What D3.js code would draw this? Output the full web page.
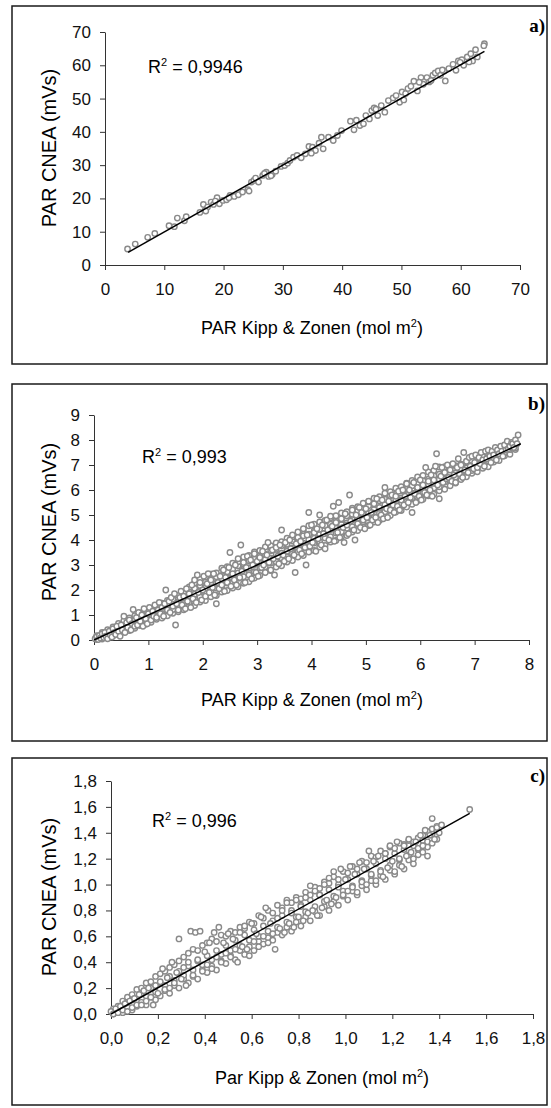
<!DOCTYPE html>
<html>
<head>
<meta charset="utf-8">
<script src="https://cdn.jsdelivr.net/npm/d3@7"></script>
<style>
  body { margin: 0; background: #fff; }
  svg { display: block; font-family: "Liberation Sans", Arial, sans-serif; }
  .axis path, .axis line { stroke: #333; }
  .axis text { font-size: 17px; fill: #111; font-family: "Liberation Sans", Arial, sans-serif; }
</style>
</head>
<body>
<div id="chart-area"></div>
<script>
// ---- data ----
const panelLetters = ["a)", "b)", "c)"]
const r2Labels = ["0,9946", "0,993", "0,996"]
const xTitles = ["PAR Kipp & Zonen (mol m", "PAR Kipp & Zonen (mol m", "Par Kipp & Zonen (mol m"]
const yTitle = "PAR CNEA (mVs)"

const aTicks = [0, 10, 20, 30, 40, 50, 60, 70]
const bTicks = [0, 1, 2, 3, 4, 5, 6, 7, 8]
const bYTicks = [0, 1, 2, 3, 4, 5, 6, 7, 8, 9]
const cTicks = [0, 0.2, 0.4, 0.6, 0.8, 1.0, 1.2, 1.4, 1.6, 1.8]

const aTrend = [[3.9, 3.8], [64, 64.2]]
const bTrend = [[0, 0], [7.85, 7.85]]
const cTrend = [[0, 0], [1.53, 1.55]]

const aPoints = [
  [3.8,4.8],[5.1,6.3],[7.2,8.3],[8.4,9.5],[10.8,11.8],[11.7,11.5],[12.2,14.1],[13.4,13.3],[13.7,14.5],
  [16.0,15.8],[16.6,18.2],[16.9,16.5],[17.3,17.4],[17.9,18.9],[18.3,18.2],[18.9,20.2],[19.3,18.4],
  [19.9,19.4],[20.5,19.6],[21.1,20.9],[21.8,20.6],[22.5,21.1],[23.2,21.9],[24.1,22.6],[24.3,22.2],
  [24.7,24.9],[25.1,25.4],[25.4,26.1],[25.9,24.9],[26.6,26.9],[27.2,27.9],[27.6,26.6],[28.2,27.2],
  [28.8,28.2],[29.7,29.6],[30.3,29.9],[30.8,30.6],[31.2,31.4],[31.8,32.4],[32.4,32.9],[33.1,32.2],
  [33.8,33.4],[34.4,35.6],[35.0,35.4],[35.5,34.4],[36.1,36.6],[36.5,38.4],[36.8,34.9],[37.7,38.4],
  [38.5,37.4],[39.2,38.9],[39.9,40.4],[41.4,43.2],[42.0,40.6],[42.4,43.5],[43.0,41.9],[43.6,42.4],
  [44.0,44.9],[44.6,43.9],[45.0,46.4],[45.4,47.2],[46.0,44.9],[46.6,47.9],[47.2,45.9],[47.8,49.4],
  [48.6,50.2],[49.1,50.9],[49.7,48.9],[50.1,52.0],[50.7,51.5],[51.1,53.0],[51.6,53.7],[52.1,55.2],
  [52.7,52.3],[53.3,56.3],[53.7,54.3],[54.3,56.3],[54.7,55.0],[55.3,57.0],[55.7,57.7],[56.2,58.3],
  [56.6,57.0],[57.2,58.3],[57.4,55.3],[58.0,59.0],[58.7,60.3],[59.2,58.5],[59.6,61.3],[60.2,61.7],
  [60.5,60.0],[61.1,62.5],[61.7,63.5],[62.0,61.3],[62.5,64.7],[62.8,62.5],[64.0,66.5],
  [17.0,16.2],[18.6,19.2],[20.9,20.2],[26.9,27.5],[28.0,26.8],[34.8,33.6],[45.7,46.8],[50.4,49.6],
  [53.0,54.9],[55.0,55.4],[56.9,58.6],[59.9,60.9],[61.4,61.0],[63.9,65.9]
]

const bPoints = [
  [0.02,0.05],[0.05,0.12],[0.08,0.02],[0.1,0.18],[0.12,0.08],[0.15,0.25],[0.18,0.1],[0.2,0.3],[0.22,0.15],
  [0.25,0.05],[0.28,0.35],[0.3,0.2],[0.33,0.12],[0.35,0.45],[0.38,0.3],[0.4,0.22],[0.42,0.55],[0.45,0.35],
  [0.48,0.15],[0.5,0.6],[0.52,0.4],[0.55,0.95],[0.57,0.3],[0.6,0.7],[0.62,0.5],[0.65,0.8],[0.68,0.4],
  [0.7,0.65],[0.72,1.22],[0.75,0.55],[0.78,0.9],[0.8,0.6],[0.82,1.1],[0.85,0.75],[0.88,1.0],[0.9,0.55],
  [0.92,1.25],[0.95,0.85],[0.98,0.65],[1.0,1.05],[1.02,1.3],[1.05,0.8],[1.08,1.15],[1.1,0.95],[1.12,1.4],
  [1.15,0.9],[1.18,1.2],[1.2,1.5],[1.22,1.05],[1.25,1.3],[1.28,0.95],[1.3,1.45],[1.32,2.0],[1.35,1.2],
  [1.38,1.55],[1.4,1.1],[1.42,1.7],[1.45,1.35],[1.48,1.85],[1.5,0.6],[1.52,1.45],[1.55,1.2],[1.58,1.7],
  [1.6,1.95],[1.62,1.4],[1.65,1.75],[1.68,1.25],[1.7,2.05],[1.72,1.55],[1.75,1.85],[1.78,1.3],[1.8,2.2],
  [1.82,1.65],[1.85,2.4],[1.88,1.5],[1.9,2.6],[1.92,1.9],[1.95,2.3],[1.98,1.6],[2.0,2.0],[2.02,2.55],
  [2.05,1.75],[2.08,2.25],[2.1,2.65],[2.12,1.9],[2.15,2.4],[2.18,2.1],[2.2,2.65],[2.22,1.8],[2.25,1.45],
  [2.28,2.3],[2.3,2.05],[2.32,2.55],[2.35,2.2],[2.38,2.8],[2.4,1.95],[2.42,2.5],[2.45,2.3],[2.48,2.9],
  [2.5,3.5],[2.52,2.15],[2.55,2.65],[2.58,2.4],[2.6,3.0],[2.62,2.2],[2.65,3.25],[2.68,2.5],[2.7,3.8],
  [2.72,2.75],[2.75,3.1],[2.78,2.3],[2.8,2.9],[2.82,3.35],[2.85,2.6],[2.88,3.2],[2.9,2.45],[2.92,3.0],
  [2.95,3.45],[2.98,2.7],[3.0,3.15],[3.02,2.55],[3.05,3.3],[3.08,2.9],[3.1,3.55],[3.12,3.0],[3.15,2.7],
  [3.18,3.4],[3.2,3.9],[3.22,3.1],[3.25,2.8],[3.28,3.6],[3.3,3.25],[3.32,2.6],[3.35,3.7],[3.38,3.35],
  [3.4,3.05],[3.42,3.8],[3.45,4.4],[3.48,3.4],[3.5,3.15],[3.52,3.9],[3.55,3.55],[3.58,3.25],[3.6,4.0],
  [3.62,3.65],[3.65,4.2],[3.68,3.4],[3.7,2.7],[3.72,3.85],[3.75,4.1],[3.78,3.6],[3.8,3.95],[3.82,3.45],
  [3.85,4.45],[3.88,3.7],[3.9,3.0],[3.92,4.2],[3.95,5.1],[3.97,3.75],[4.0,4.6],[4.02,3.9],[4.05,4.3],
  [4.08,3.55],[4.1,4.45],[4.12,4.05],[4.15,5.0],[4.18,3.8],[4.2,4.6],[4.22,4.25],[4.25,3.65],[4.28,4.8],
  [4.3,4.4],[4.32,4.0],[4.35,4.95],[4.38,4.55],[4.4,5.35],[4.42,3.95],[4.45,4.7],[4.48,4.3],[4.5,5.5],
  [4.52,4.1],[4.55,4.85],[4.58,4.5],[4.6,3.9],[4.62,5.05],[4.65,4.6],[4.68,4.25],[4.7,5.8],[4.72,4.75],
  [4.75,5.2],[4.78,4.4],[4.8,4.0],[4.82,5.0],[4.85,4.65],[4.88,5.3],[4.9,4.5],[4.92,5.1],[4.95,4.8],
  [4.98,4.45],[5.0,5.25],[5.02,4.9],[5.05,5.55],[5.08,4.6],[5.1,5.1],[5.12,4.8],[5.15,5.45],[5.18,4.9],
  [5.2,5.65],[5.22,4.7],[5.25,5.3],[5.28,5.0],[5.3,5.6],[5.32,4.85],[5.35,6.1],[5.38,5.25],[5.4,4.9],
  [5.42,5.55],[5.45,5.2],[5.48,5.8],[5.5,5.4],[5.52,5.1],[5.55,5.75],[5.58,5.35],[5.6,5.95],[5.62,5.2],
  [5.65,5.6],[5.68,6.0],[5.7,5.4],[5.72,5.75],[5.75,6.25],[5.78,5.5],[5.8,6.0],[5.82,5.7],[5.85,5.1],
  [5.88,6.3],[5.9,5.85],[5.92,5.5],[5.95,6.1],[5.98,5.75],[6.0,6.4],[6.02,5.6],[6.05,6.2],[6.08,5.9],
  [6.1,6.9],[6.12,5.8],[6.15,6.35],[6.18,6.0],[6.2,6.6],[6.22,5.75],[6.25,6.4],[6.28,6.95],[6.3,7.45],
  [6.32,6.2],[6.35,5.65],[6.38,6.55],[6.4,6.9],[6.42,6.3],[6.45,6.7],[6.48,6.45],[6.5,7.0],[6.52,6.5],
  [6.55,6.8],[6.58,6.35],[6.6,7.05],[6.62,6.6],[6.65,6.3],[6.68,6.9],[6.7,7.25],[6.72,6.65],[6.75,7.0],
  [6.78,6.5],[6.8,7.5],[6.82,6.8],[6.85,7.15],[6.88,6.7],[6.9,7.3],[6.92,6.95],[6.95,7.35],[6.98,6.85],
  [7.0,7.1],[7.02,7.4],[7.05,6.9],[7.08,7.3],[7.1,7.05],[7.12,7.5],[7.15,7.2],[7.18,6.95],[7.2,7.55],
  [7.22,7.25],[7.25,7.6],[7.28,7.35],[7.3,7.1],[7.32,7.55],[7.35,7.4],[7.38,7.7],[7.4,7.2],[7.42,7.6],
  [7.45,7.45],[7.48,7.75],[7.5,7.55],[7.52,7.35],[7.55,7.8],[7.58,7.6],[7.6,7.95],[7.62,7.65],[7.65,7.75],
  [7.68,7.9],[7.7,7.85],[7.72,7.7],[7.75,8.0],[7.78,7.85],[7.8,8.2]
]

// more of the dense band in b, read column by column (x, list of y)
const bColumns = [
  [0.05,[0.02,0.09,0.17]],[0.15,[0.04,0.14,0.22,0.3]],[0.25,[0.12,0.19,0.33,0.41]],
  [0.35,[0.16,0.28,0.37,0.52]],[0.45,[0.22,0.41,0.48,0.66]],[0.55,[0.33,0.44,0.63,0.78]],
  [0.65,[0.38,0.57,0.69,0.88]],[0.75,[0.47,0.68,0.83,0.97]],[0.85,[0.58,0.66,0.93,1.08]],
  [0.95,[0.63,0.82,0.97,1.18]],[1.05,[0.71,0.93,1.09,1.24]],[1.15,[0.83,1.02,1.17,1.38]],
  [1.25,[0.88,1.13,1.22,1.47]],[1.35,[0.97,1.18,1.39,1.58]],[1.45,[1.07,1.22,1.48,1.63]],
  [1.55,[1.13,1.38,1.52,1.78]],[1.65,[1.21,1.47,1.68,1.88]],[1.75,[1.33,1.52,1.77,1.93,2.12]],
  [1.85,[1.38,1.63,1.83,2.07,2.28]],[1.95,[1.52,1.72,1.97,2.18,2.43]],[2.05,[1.58,1.88,2.08,2.32,2.52]],
  [2.15,[1.73,1.93,2.22,2.43,2.63]],[2.25,[1.78,2.08,2.27,2.53,2.68]],[2.35,[1.92,2.13,2.42,2.58,2.87]],
  [2.45,[1.98,2.28,2.48,2.73,2.93]],[2.55,[2.08,2.32,2.62,2.83,3.07]],[2.65,[2.13,2.47,2.68,2.97,3.13]],
  [2.75,[2.27,2.53,2.83,3.03,3.32]],[2.85,[2.33,2.68,2.88,3.17,3.38]],[2.95,[2.48,2.73,3.02,3.23,3.52]],
  [3.05,[2.58,2.88,3.07,3.37,3.58]],[3.15,[2.72,2.93,3.22,3.43,3.72]],[3.25,[2.78,3.08,3.27,3.57,3.77]],
  [3.35,[2.92,3.13,3.42,3.63,3.88]],[3.45,[2.97,3.28,3.47,3.77,3.93]],[3.55,[3.12,3.33,3.62,3.83,4.07]],
  [3.65,[3.18,3.47,3.68,3.97,4.13]],[3.75,[3.32,3.53,3.82,4.03,4.32]],[3.85,[3.38,3.68,3.87,4.17,4.38]],
  [3.95,[3.52,3.73,4.02,4.23,4.57]],[4.05,[3.58,3.88,4.07,4.37,4.63]],[4.15,[3.72,3.93,4.22,4.43,4.72]],
  [4.25,[3.78,4.08,4.27,4.57,4.78]],[4.35,[3.92,4.13,4.42,4.63,4.88]],[4.45,[3.98,4.28,4.47,4.77,4.97]],
  [4.55,[4.12,4.33,4.62,4.83,5.08]],[4.65,[4.18,4.47,4.68,4.97,5.13]],[4.75,[4.32,4.53,4.82,5.03,5.27]],
  [4.85,[4.38,4.68,4.87,5.17,5.33]],[4.95,[4.52,4.73,5.02,5.23,5.47]],[5.05,[4.58,4.88,5.07,5.37,5.53]],
  [5.15,[4.72,4.93,5.22,5.43,5.67]],[5.25,[4.78,5.08,5.27,5.57,5.73]],[5.35,[4.92,5.13,5.42,5.63,5.87]],
  [5.45,[4.98,5.28,5.47,5.77,5.93]],[5.55,[5.12,5.33,5.62,5.83,6.07]],[5.65,[5.18,5.47,5.68,5.97,6.13]],
  [5.75,[5.32,5.53,5.82,6.03,6.27]],[5.85,[5.43,5.68,5.87,6.17,6.38]],[5.95,[5.57,5.73,6.02,6.23,6.52]],
  [6.05,[5.63,5.88,6.07,6.37,6.58]],[6.15,[5.77,5.93,6.22,6.43,6.72]],[6.25,[5.83,6.08,6.27,6.57,6.78]],
  [6.35,[5.97,6.13,6.42,6.63,6.92]],[6.45,[6.03,6.32,6.48,6.77,6.93]],[6.55,[6.17,6.38,6.62,6.87]],
  [6.65,[6.28,6.52,6.68,6.97]],[6.75,[6.42,6.58,6.82,7.03]],[6.85,[6.53,6.72,6.88,7.12]],
  [6.95,[6.67,6.78,7.02,7.18]],[7.05,[6.73,6.97,7.08,7.32]],[7.15,[6.87,7.03,7.22,7.33]],
  [7.25,[6.93,7.17,7.28,7.47]],[7.35,[7.12,7.23,7.42,7.53]],[7.45,[7.18,7.37,7.48,7.67]],
  [7.55,[7.37,7.48,7.62,7.73]],[7.65,[7.43,7.62,7.68,7.87]],[7.75,[7.62,7.68,7.82,7.88]]
]

const cPoints = [
  [0.0,0.02],[0.01,0.0],[0.02,0.04],[0.03,0.01],[0.04,0.06],[0.05,0.03],[0.06,0.08],[0.07,0.02],[0.08,0.1],
  [0.09,0.05],[0.1,0.12],[0.11,0.07],[0.12,0.15],[0.13,0.07],[0.14,0.18],[0.15,0.1],[0.16,0.2],[0.17,0.13],
  [0.18,0.07],[0.19,0.22],[0.2,0.16],[0.21,0.25],[0.22,0.35],[0.23,0.19],[0.24,0.28],[0.25,0.2],[0.26,0.4],
  [0.27,0.24],[0.28,0.32],[0.29,0.58],[0.3,0.27],[0.31,0.36],[0.32,0.22],[0.33,0.4],[0.34,0.64],[0.35,0.3],
  [0.36,0.63],[0.37,0.42],[0.38,0.64],[0.39,0.33],[0.4,0.48],[0.41,0.38],[0.42,0.55],[0.43,0.35],[0.44,0.63],
  [0.45,0.44],[0.46,0.67],[0.47,0.4],[0.48,0.55],[0.49,0.47],[0.5,0.62],[0.51,0.44],[0.52,0.58],[0.53,0.5],
  [0.54,0.4],[0.55,0.63],[0.56,0.52],[0.57,0.68],[0.58,0.5],[0.59,0.45],[0.6,0.7],[0.61,0.56],[0.62,0.62],
  [0.63,0.52],[0.64,0.75],[0.65,0.6],[0.66,0.82],[0.67,0.55],[0.68,0.7],[0.69,0.62],[0.7,0.5],[0.71,0.74],
  [0.72,0.66],[0.73,0.8],[0.74,0.63],[0.75,0.86],[0.76,0.7],[0.77,0.78],[0.78,0.67],[0.79,0.88],[0.8,0.75],
  [0.81,0.83],[0.82,0.72],[0.83,0.9],[0.84,0.78],[0.85,0.99],[0.86,0.8],[0.87,0.95],[0.88,0.76],[0.89,0.92],
  [0.9,0.82],[0.91,1.0],[0.92,0.88],[0.93,1.05],[0.94,0.85],[0.95,1.1],[0.96,0.9],[0.97,0.98],[0.98,1.12],
  [0.99,0.92],[1.0,1.04],[1.01,0.95],[1.02,1.14],[1.03,0.98],[1.04,1.08],[1.05,0.94],[1.06,1.17],[1.07,1.02],
  [1.08,1.12],[1.09,1.0],[1.1,1.26],[1.11,1.08],[1.12,1.18],[1.13,1.03],[1.14,1.22],[1.15,1.1],[1.16,1.06],
  [1.17,1.24],[1.18,1.13],[1.19,1.3],[1.2,1.18],[1.21,1.1],[1.22,1.33],[1.23,1.2],[1.24,1.14],[1.25,1.3],
  [1.26,1.22],[1.27,1.35],[1.28,1.25],[1.29,1.2],[1.3,1.33],[1.31,1.28],[1.32,1.38],[1.33,1.3],[1.34,1.42],
  [1.35,1.22],[1.36,1.38],[1.37,1.51],[1.38,1.35],[1.39,1.44],[1.4,1.4],[1.41,1.46],[1.53,1.58]
]

// more of the dense band in c, read column by column (x, list of y)
const cColumns = [
  [0.01,[0.0,0.04]],[0.03,[0.02,0.06]],[0.05,[0.01,0.07,0.1]],[0.07,[0.05,0.09,0.13]],
  [0.09,[0.03,0.11,0.15]],[0.11,[0.06,0.1,0.19]],[0.13,[0.09,0.16,0.2]],[0.15,[0.07,0.14,0.24]],
  [0.17,[0.13,0.2,0.25]],[0.19,[0.11,0.17,0.29]],[0.21,[0.14,0.24,0.31]],[0.23,[0.18,0.22,0.33]],
  [0.25,[0.16,0.29,0.36]],[0.27,[0.22,0.26,0.38]],[0.29,[0.2,0.33,0.41]],[0.31,[0.27,0.3,0.44]],
  [0.33,[0.24,0.37,0.47]],[0.35,[0.29,0.34,0.5]],[0.37,[0.27,0.41,0.49]],[0.39,[0.34,0.38,0.53]],
  [0.41,[0.32,0.45,0.55]],[0.43,[0.37,0.42,0.58]],[0.45,[0.34,0.49,0.56]],[0.47,[0.41,0.46,0.61]],
  [0.49,[0.39,0.53,0.6]],[0.51,[0.45,0.49,0.64]],[0.53,[0.42,0.57,0.63]],[0.55,[0.49,0.53,0.67]],
  [0.57,[0.46,0.61,0.66]],[0.59,[0.52,0.57,0.71]],[0.61,[0.49,0.65,0.7]],[0.63,[0.56,0.6,0.76]],
  [0.65,[0.54,0.68,0.74]],[0.67,[0.59,0.64,0.8]],[0.69,[0.57,0.72,0.78]],[0.71,[0.63,0.67,0.84]],
  [0.73,[0.61,0.76,0.82]],[0.75,[0.67,0.71,0.88]],[0.77,[0.64,0.8,0.86]],[0.79,[0.71,0.75,0.9]],
  [0.81,[0.68,0.84,0.89]],[0.83,[0.75,0.79,0.94]],[0.85,[0.72,0.88,0.92]],[0.87,[0.79,0.83,0.98]],
  [0.89,[0.76,0.92,0.97]],[0.91,[0.83,0.87,1.02]],[0.93,[0.8,0.96,1.01]],[0.95,[0.87,0.91,1.06]],
  [0.97,[0.84,1.0,1.04]],[0.99,[0.91,0.95,1.1]],[1.01,[0.88,1.04,1.09]],[1.03,[0.95,0.99,1.14]],
  [1.05,[0.92,1.08,1.12]],[1.07,[0.99,1.03,1.18]],[1.09,[0.96,1.12,1.17]],[1.11,[1.03,1.07,1.22]],
  [1.13,[1.0,1.16,1.21]],[1.15,[1.07,1.11,1.26]],[1.17,[1.04,1.2,1.24]],[1.19,[1.11,1.15,1.29]],
  [1.21,[1.08,1.24,1.28]],[1.23,[1.15,1.19,1.32]],[1.25,[1.12,1.27,1.31]],[1.27,[1.19,1.23,1.34]],
  [1.29,[1.16,1.3,1.33]],[1.31,[1.23,1.27,1.36]],[1.33,[1.25,1.34,1.38]],[1.35,[1.29,1.33,1.41]],
  [1.37,[1.32,1.39,1.43]],[1.39,[1.35,1.42,1.45]]
]

const fromColumns = cols => cols.flatMap(([x, ys]) => ys.map(y => [x, y]))

// ---- layout ----
const svg = d3.select("#chart-area").append("svg")
  .attr("width", 551)
  .attr("height", 1108)

const panels = [
  { letter: panelLetters[0], r2: r2Labels[0], xTitle: xTitles[0], points: aPoints, trend: aTrend,
    xTicks: aTicks, yTicks: aTicks, xDom: [0, 70], yDom: [0, 70], fmt: d => d,
    frame: [12, 6, 547, 364], xr: [105, 520], yr: [265, 32],
    r2Pos: [148, 67], yTitlePos: [49, 148], xTitlePos: [312, 328], letterPos: [545, 25] },
  { letter: panelLetters[1], r2: r2Labels[1], xTitle: xTitles[1], points: fromColumns(bColumns).concat(bPoints), trend: bTrend,
    xTicks: bTicks, yTicks: bYTicks, xDom: [0, 8], yDom: [0, 9], fmt: d => d,
    frame: [12, 384, 547, 741], xr: [94, 529], yr: [640, 415],
    r2Pos: [142, 457], yTitlePos: [49, 522], xTitlePos: [312, 700], letterPos: [545, 403] },
  { letter: panelLetters[2], r2: r2Labels[2], xTitle: xTitles[2], points: fromColumns(cColumns).concat(cPoints), trend: cTrend,
    xTicks: cTicks, yTicks: cTicks, xDom: [0, 1.8], yDom: [0, 1.8], fmt: d => d.toFixed(1).replace(".", ","),
    frame: [12, 758, 547, 1105], xr: [111, 533], yr: [1014, 781],
    r2Pos: [152, 821], yTitlePos: [49, 897], xTitlePos: [322, 1078], letterPos: [545, 775] }
]

panels.forEach(p => drawPanel(p))

function drawPanel(p) {
  const g = svg.append("g")

  // outer frame
  g.append("rect")
    .attr("x", p.frame[0])
    .attr("y", p.frame[1])
    .attr("width", p.frame[2] - p.frame[0])
    .attr("height", p.frame[3] - p.frame[1])
    .attr("fill", "none")
    .attr("stroke", "#1a1a1a")
    .attr("stroke-width", 1.5)

  const x = d3.scaleLinear().domain(p.xDom).range(p.xr)
  const y = d3.scaleLinear().domain(p.yDom).range(p.yr)

  const xAxis = d3.axisBottom(x).tickValues(p.xTicks).tickFormat(p.fmt)
    .tickSizeInner(5).tickSizeOuter(0).tickPadding(13)
  g.append("g")
    .attr("class", "axis")
    .attr("transform", `translate(0, ${p.yr[0]})`)
    .call(xAxis)

  const yAxis = d3.axisLeft(y).tickValues(p.yTicks).tickFormat(p.fmt)
    .tickSizeInner(5).tickSizeOuter(0).tickPadding(9)
  g.append("g")
    .attr("class", "axis")
    .attr("transform", `translate(${p.xr[0]}, 0)`)
    .call(yAxis)

  // points
  g.append("g").selectAll("circle")
    .data(p.points)
    .enter().append("circle")
      .attr("cx", d => x(d[0]))
      .attr("cy", d => y(d[1]))
      .attr("r", 2.7)
      .attr("fill", "#fff")
      .attr("stroke", "#8a8a8a")
      .attr("stroke-width", 1.4)

  // linear trend line
  g.append("line")
    .attr("x1", x(p.trend[0][0])).attr("y1", y(p.trend[0][1]))
    .attr("x2", x(p.trend[1][0])).attr("y2", y(p.trend[1][1]))
    .attr("stroke", "#000")
    .attr("stroke-width", 1.5)

  // R² label
  const r2 = g.append("text")
    .attr("x", p.r2Pos[0])
    .attr("y", p.r2Pos[1])
    .attr("dy", "0.35em")
    .attr("font-size", "18px")
  r2.append("tspan").text("R")
  r2.append("tspan").attr("font-size", "11px").attr("dy", "-7").text("2")
  r2.append("tspan").attr("dy", "7").text(" = " + p.r2)

  // y title
  g.append("text")
    .attr("transform", `translate(${p.yTitlePos[0]}, ${p.yTitlePos[1]}) rotate(-90)`)
    .attr("text-anchor", "middle")
    .attr("dy", "0.35em")
    .attr("font-size", "20px")
    .text(yTitle)

  // x title
  const xt = g.append("text")
    .attr("x", p.xTitlePos[0])
    .attr("y", p.xTitlePos[1])
    .attr("dy", "0.35em")
    .attr("text-anchor", "middle")
    .attr("font-size", "18px")
  xt.append("tspan").text(p.xTitle)
  xt.append("tspan").attr("font-size", "11px").attr("dy", "-7").text("2")
  xt.append("tspan").attr("dy", "7").text(")")

  // panel letter
  g.append("text")
    .attr("x", p.letterPos[0])
    .attr("y", p.letterPos[1])
    .attr("dy", "0.35em")
    .attr("text-anchor", "end")
    .attr("font-family", "'Liberation Serif', 'Times New Roman', serif")
    .attr("font-weight", "bold")
    .attr("font-size", "19px")
    .text(p.letter)
}
</script>
</body>
</html>
